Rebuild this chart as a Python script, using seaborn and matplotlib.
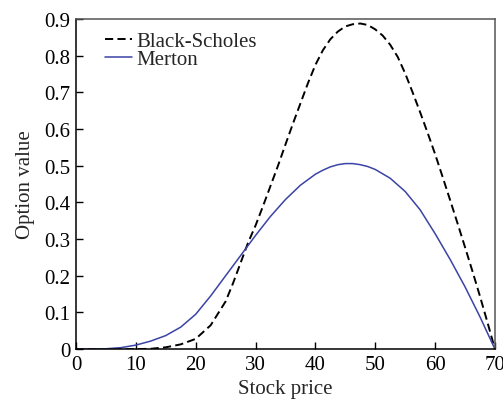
import numpy as np
import pandas as pd
import matplotlib
matplotlib.use("Agg")
import matplotlib.pyplot as plt
import seaborn as sns

# Datos
precio_bs = [0, 5, 10, 12.5, 15, 17.5, 20, 22.5, 25, 26.25, 27.5, 28.75, 30, 31.25,
             32.5, 33.75, 35, 36.25, 37.5, 38.75, 40, 41.25, 42.5, 43.75, 45, 46.25,
             47.5, 48.75, 50, 51.25, 52.5, 53.75, 55, 56.25, 57.5, 58.75, 60, 61.25,
             62.5, 63.75, 65, 66.25, 67.5, 68.75, 70]
black_scholes = [0, 0, 0, 0.001, 0.005, 0.013, 0.028, 0.065, 0.13, 0.18, 0.235, 0.29,
                 0.337, 0.39, 0.445, 0.5, 0.558, 0.615, 0.67, 0.725, 0.775, 0.815, 0.845,
                 0.866, 0.88, 0.886, 0.888, 0.884, 0.872, 0.855, 0.83, 0.797, 0.752,
                 0.7, 0.646, 0.59, 0.532, 0.47, 0.407, 0.343, 0.278, 0.212, 0.144,
                 0.073, 0]

precio_merton = [0, 2.5, 5, 7.5, 10, 12.5, 15, 17.5, 20, 22.5, 25, 27.5, 30, 32.5, 35,
                 37.5, 40, 41.25, 42.5, 43.75, 45, 46.25, 47.5, 48.75, 50, 52.5, 55,
                 57.5, 60, 62.5, 65, 67.5, 70]
merton = [0, 0, 0.001, 0.004, 0.011, 0.022, 0.037, 0.06, 0.095, 0.145, 0.2, 0.255,
          0.31, 0.362, 0.408, 0.447, 0.477, 0.488, 0.497, 0.503, 0.506, 0.506, 0.503,
          0.498, 0.49, 0.466, 0.43, 0.38, 0.315, 0.245, 0.17, 0.088, 0]

df_bs = pd.DataFrame({"precio": precio_bs, "valor": black_scholes})
df_merton = pd.DataFrame({"precio": precio_merton, "valor": merton})

# Estilo
sns.set_theme(style="ticks")
plt.rcParams["font.family"] = ["Liberation Serif", "DejaVu Serif"]

fig = plt.figure(figsize=(5.03, 4.02), dpi=100)
ax = fig.add_axes([0.151, 0.129, 0.833, 0.821])

sns.lineplot(data=df_bs, x="precio", y="valor", ax=ax, color="black",
             linewidth=1.4, label="Black-Scholes")
ax.lines[-1].set_dashes([4.2, 2.2])
sns.lineplot(data=df_merton, x="precio", y="valor", ax=ax, color="#3a43a6",
             linewidth=1.1, label="Merton")

ax.set_xlim(0, 70)
ax.set_ylim(0, 0.9)
ax.set_xticks(np.arange(0, 71, 10))
ax.set_yticks(np.arange(0, 0.91, 0.1))
ax.set_yticklabels(["0"] + [f"{v:.1f}" for v in np.arange(0.1, 0.91, 0.1)])
ax.set_xlabel("Stock price", fontsize=15, labelpad=4)
ax.set_ylabel("Option value", fontsize=15, labelpad=7)
ax.tick_params(direction="in", length=5, width=1.0, labelsize=15, colors="black",
               top=False, right=False)
ax.tick_params(axis="x", pad=4)
ax.tick_params(axis="y", pad=4)

for s in ["left", "bottom"]:
    ax.spines[s].set_color("black")
    ax.spines[s].set_linewidth(1.1)
for s in ["top", "right"]:
    ax.spines[s].set_color("#555555")
    ax.spines[s].set_linewidth(1.1)
    ax.spines[s].set_visible(True)

ax.legend(loc="upper left", bbox_to_anchor=(0.03, 1.012), frameon=False, fontsize=15,
          handlelength=1.3, handletextpad=0.2, labelspacing=-0.1, borderpad=0.3)

fig.savefig("out.png", dpi=100)
